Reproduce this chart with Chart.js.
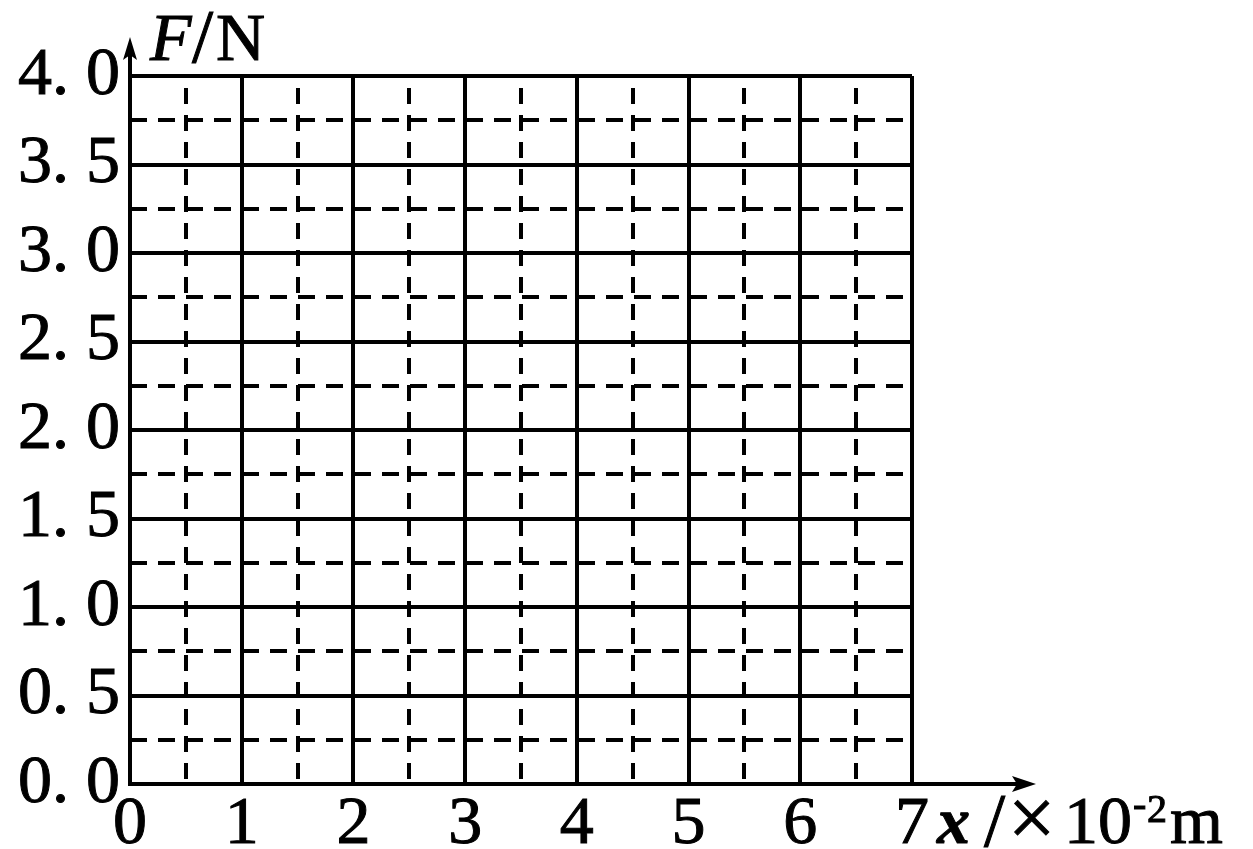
<!DOCTYPE html>
<html>
<head>
<meta charset="utf-8">
<script src="https://cdn.jsdelivr.net/npm/chart.js@4.4.1/dist/chart.umd.min.js"></script>
<style>
  html, body { margin: 0; padding: 0; background: #fff; }
  #wrap { width: 1253px; height: 849px; }
</style>
</head>
<body>
<div id="wrap"><canvas id="myChart"></canvas></div>
<script>
// tick labels as printed on the graph paper
var xTickLabels = ['0', '1', '2', '3', '4', '5', '6', '7'];
var yTickLabels = ['0. 0', '0. 5', '1. 0', '1. 5', '2. 0', '2. 5', '3. 0', '3. 5', '4. 0'];
var yStep = 0.5;
var xTitle = ['x', '/', '\u00d7', '10', '-', '2', 'm'];
var yTitle = ['F', '/', 'N'];

var SERIF = '"Liberation Serif", "DejaVu Serif", serif';

function txt(ctx, s, x, y, font) {
  ctx.font = font;
  ctx.fillText(s, x, y);
  ctx.strokeText(s, x, y);
}

// dashed sub-grid + arrows + axis titles
var gridPaper = {
  id: 'gridPaper',
  beforeDatasetsDraw: function(chart) {
    var ctx = chart.ctx, a = chart.chartArea;
    var xs = chart.scales.x, ys = chart.scales.y;
    ctx.save();
    ctx.strokeStyle = '#000';
    ctx.lineWidth = 4;
    ctx.setLineDash([16, 11]);
    for (var i = 0; i < xTickLabels.length - 1; i++) {
      var px = Math.round(xs.getPixelForValue(i + 0.5));
      ctx.lineDashOffset = -12;
      ctx.beginPath();
      ctx.moveTo(px, a.top);
      ctx.lineTo(px, a.bottom);
      ctx.stroke();
    }
    ctx.setLineDash([17, 11]);
    for (var j = 0; j < yTickLabels.length - 1; j++) {
      var py = Math.round(ys.getPixelForValue((j + 0.5) * yStep));
      ctx.lineDashOffset = 0;
      ctx.beginPath();
      ctx.moveTo(a.left, py);
      ctx.lineTo(a.right, py);
      ctx.stroke();
    }
    ctx.restore();
  },
  afterDraw: function(chart) {
    var ctx = chart.ctx, a = chart.chartArea;
    var ox = a.left, oy = a.bottom;
    ctx.save();
    ctx.strokeStyle = '#000';
    ctx.fillStyle = '#000';
    ctx.lineWidth = 4;
    ctx.setLineDash([]);
    // axis lines past the grid
    ctx.beginPath();
    ctx.moveTo(ox, oy);
    ctx.lineTo(ox, 50);
    ctx.moveTo(ox, oy);
    ctx.lineTo(1022, oy);
    ctx.stroke();
    // arrow heads
    ctx.beginPath();
    ctx.moveTo(ox, 37);
    ctx.lineTo(ox - 7, 60);
    ctx.lineTo(ox, 55);
    ctx.lineTo(ox + 7, 60);
    ctx.closePath();
    ctx.fill();
    ctx.beginPath();
    ctx.moveTo(1036, oy);
    ctx.lineTo(1012, oy - 8);
    ctx.lineTo(1017, oy);
    ctx.lineTo(1012, oy + 8);
    ctx.closePath();
    ctx.fill();

    ctx.textBaseline = 'alphabetic';
    ctx.textAlign = 'left';
    ctx.lineWidth = 1;

    // y title  F/N
    txt(ctx, yTitle[0], 150, 60, 'italic 68px ' + SERIF);
    txt(ctx, yTitle[1], 192, 62, '76px ' + SERIF);
    txt(ctx, yTitle[2], 216, 60, '68px ' + SERIF);

    // x title  x/×10^-2 m
    txt(ctx, xTitle[0], 937, 843, 'italic bold 66px ' + SERIF);
    txt(ctx, xTitle[1], 984, 846, '76px ' + SERIF);
    txt(ctx, xTitle[2], 1008, 846, '84px ' + SERIF);
    txt(ctx, xTitle[3], 1064, 843, '68px ' + SERIF);
    txt(ctx, xTitle[4], 1133, 817, '40px ' + SERIF);
    txt(ctx, xTitle[5], 1147, 822, '40px ' + SERIF);
    txt(ctx, xTitle[6], 1170, 843, '68px ' + SERIF);
    ctx.restore();
  }
};

var config = {
  type: 'scatter',
  data: {
    datasets: [{ data: [], showLine: false }]
  },
  options: {
    responsive: true,
    maintainAspectRatio: false,
    animation: false,
    events: [],
    layout: { padding: { top: 76, right: 341, bottom: 0, left: 0 } },
    plugins: {
      legend: { display: false },
      tooltip: { enabled: false }
    },
    scales: {
      x: {
        type: 'linear',
        min: 0,
        max: xTickLabels.length - 1,
        afterFit: function(scale) { scale.height = 65; },
        ticks: {
          stepSize: 1,
          padding: 0,
          color: '#000',
          maxRotation: 0,
          textStrokeColor: '#000',
          textStrokeWidth: 1,
          font: { family: SERIF, size: 68 },
          callback: function(v) { return xTickLabels[v]; }
        },
        grid: { color: '#000', lineWidth: 4, drawTicks: false },
        border: { color: '#000', width: 4 }
      },
      y: {
        type: 'linear',
        min: 0,
        max: (yTickLabels.length - 1) * yStep,
        afterFit: function(scale) { scale.width = 130; },
        ticks: {
          stepSize: yStep,
          padding: 10,
          color: '#000',
          textStrokeColor: '#000',
          textStrokeWidth: 1,
          font: { family: SERIF, size: 68 },
          callback: function(v) { return yTickLabels[Math.round(v / yStep)]; }
        },
        grid: { color: '#000', lineWidth: 4, drawTicks: false },
        border: { color: '#000', width: 4 }
      }
    }
  },
  plugins: [gridPaper]
};

var ctx = document.getElementById('myChart').getContext('2d');
var myChart = new Chart(ctx, config);
</script>
</body>
</html>
